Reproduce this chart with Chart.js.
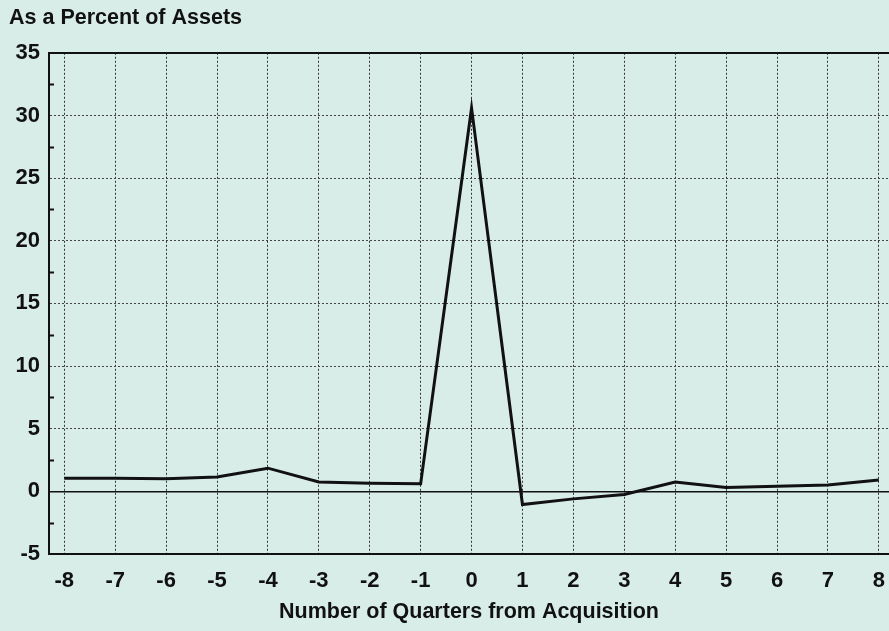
<!DOCTYPE html>
<html>
<head>
<meta charset="utf-8">
<script src="https://cdn.jsdelivr.net/npm/chart.js@4/dist/chart.umd.min.js"></script>
<style>
  html, body { margin: 0; padding: 0; background: #d8ede8; }
  #wrap { width: 889px; height: 631px; }
</style>
</head>
<body>
<div id="wrap"><canvas id="acqChart"></canvas></div>
<script>
// ---- data ----
const quarters = [-8, -7, -6, -5, -4, -3, -2, -1, 0, 1, 2, 3, 4, 5, 6, 7, 8];
const pctOfAssets = [1.05, 1.05, 1.0, 1.15, 1.85, 0.75, 0.65, 0.6, 30.6, -1.05, -0.6, -0.25, 0.75, 0.3, 0.4, 0.5, 0.9];
const xTicks = [-8, -7, -6, -5, -4, -3, -2, -1, 0, 1, 2, 3, 4, 5, 6, 7, 8];
const yTicks = [-5, 0, 5, 10, 15, 20, 25, 30, 35];
const yMinorTicks = [-2.5, 2.5, 7.5, 12.5, 17.5, 22.5, 27.5, 32.5];

const FONT = "'Liberation Sans', Arial, Helvetica, sans-serif";

// paint the mint background
const bgPlugin = {
  id: 'bg',
  beforeDraw(chart) {
    const ctx = chart.ctx;
    ctx.save();
    ctx.fillStyle = '#d8ede8';
    ctx.fillRect(0, 0, chart.width, chart.height);
    ctx.restore();
  }
};

// little minor tick marks on the inside of the left axis
const minorTickPlugin = {
  id: 'minorTicks',
  afterDraw(chart) {
    const ctx = chart.ctx;
    const y = chart.scales.y;
    const left = chart.chartArea.left;
    ctx.save();
    ctx.strokeStyle = '#111';
    ctx.lineWidth = 2;
    yMinorTicks.forEach(function(v) {
      const py = Math.round(y.getPixelForValue(v)) + 0.5;
      ctx.beginPath();
      ctx.moveTo(left, py);
      ctx.lineTo(left + 5, py);
      ctx.stroke();
    });
    ctx.restore();
  }
};

new Chart(document.getElementById('acqChart'), {
  type: 'line',
  data: {
    labels: quarters,
    datasets: [{
      data: quarters.map((q, i) => ({ x: q, y: pctOfAssets[i] })),
      borderColor: '#111',
      borderWidth: 3,
      pointRadius: 0,
      tension: 0,
      fill: false
    }]
  },
  options: {
    responsive: true,
    maintainAspectRatio: false,
    animation: false,
    layout: { padding: { left: 9, right: 0, top: 0, bottom: 0 } },
    plugins: {
      legend: { display: false },
      tooltip: { enabled: false },
      title: {
        display: true,
        text: 'As a Percent of Assets',
        align: 'start',
        color: '#111',
        font: { family: FONT, size: 21.5, weight: 'bold' },
        padding: { top: 5, bottom: 22 }
      }
    },
    scales: {
      x: {
        type: 'linear',
        min: -8.3,
        max: 8.2,
        afterBuildTicks(scale) {
          scale.ticks = xTicks.map(v => ({ value: v }));
        },
        afterFit(scale) {
          scale.height = 77;
          scale.paddingLeft = 0;
          scale.paddingRight = 0;
        },
        grid: {
          color: '#333',
          lineWidth: 1,
          drawTicks: false
        },
        border: { display: true, color: '#111', width: 2, dash: [2, 2] },
        ticks: {
          color: '#111',
          padding: 14,
          maxRotation: 0,
          autoSkip: false,
          font: { family: FONT, size: 22, weight: 'bold' }
        },
        title: {
          display: true,
          text: 'Number of Quarters from Acquisition',
          color: '#111',
          font: { family: FONT, size: 21.5, weight: 'bold' },
          padding: { top: 0, bottom: 6 }
        }
      },
      y: {
        type: 'linear',
        min: -5,
        max: 35,
        afterBuildTicks(scale) {
          scale.ticks = yTicks.map(v => ({ value: v }));
        },
        afterFit(scale) {
          scale.width = 40;
          scale.paddingTop = 0;
          scale.paddingBottom = 0;
        },
        grid: {
          drawTicks: false,
          color: ctx => (ctx.tick && (ctx.tick.value === 0 || ctx.tick.value === 35)) ? '#111' : '#444',
          lineWidth: ctx => (ctx.tick && ctx.tick.value === 35) ? 2 : (ctx.tick && ctx.tick.value === 0 ? 1.5 : 1)
        },
        border: {
          display: true,
          color: '#111',
          width: 2,
          dash: ctx => (ctx.tick && (ctx.tick.value === 0 || ctx.tick.value === 35)) ? [] : [2, 2]
        },
        ticks: {
          color: '#111',
          padding: 9,
          font: { family: FONT, size: 22, weight: 'bold' }
        }
      }
    }
  },
  plugins: [bgPlugin, minorTickPlugin]
});
</script>
</body>
</html>
